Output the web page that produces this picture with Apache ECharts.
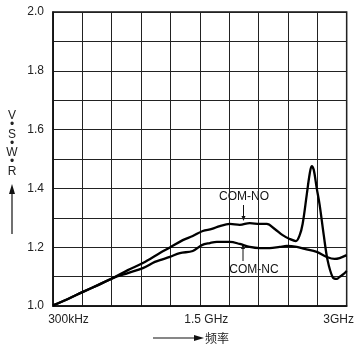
<!DOCTYPE html>
<html><head><meta charset="utf-8">
<script src="https://cdn.jsdelivr.net/npm/echarts@6/dist/echarts.min.js"></script>
<style>html,body{margin:0;padding:0;background:#fff}#c{width:357px;height:344px}</style>
</head><body><div id="c"></div>
<script>
// x positions in grid divisions (0 = 300 kHz, 10 = 3 GHz)
var noX = [0,0.51,1.02,1.53,2.04,2.55,3.06,3.64,3.98,4.42,4.76,5.10,5.41,5.68,6.02,6.36,6.70,7.04,7.28,7.55,7.82,8.06,8.27,8.40,8.50,8.64,8.74,8.81,8.88,8.98,9.08,9.22,9.35,9.52,9.66,9.76,9.90,10];
var noY = [1.002,1.024,1.048,1.071,1.095,1.122,1.146,1.180,1.199,1.224,1.238,1.255,1.262,1.272,1.279,1.276,1.282,1.279,1.279,1.262,1.241,1.228,1.221,1.241,1.279,1.378,1.449,1.476,1.463,1.401,1.344,1.241,1.156,1.099,1.092,1.099,1.109,1.119];
var ncX = [0,0.51,1.02,1.53,2.04,2.55,3.06,3.47,3.64,3.98,4.32,4.76,5.07,5.34,5.58,6.02,6.36,6.70,7.04,7.38,7.72,7.96,8.30,8.57,8.98,9.32,9.59,9.76,10];
var ncY = [1.002,1.024,1.048,1.071,1.095,1.112,1.129,1.150,1.156,1.167,1.180,1.187,1.207,1.214,1.218,1.218,1.211,1.201,1.197,1.197,1.201,1.204,1.201,1.194,1.184,1.167,1.160,1.163,1.173];
var xTickPos = [0,5,10];
var xTickLabels = ['300kHz','1.5 GHz','3GHz'];
var yLabelValues = [1.0,1.2,1.4,1.6,1.8,2.0];
var seriesNames = ['COM-NO','COM-NC'];

function pairs(xs, ys){ return xs.map(function(x,i){ return [x, ys[i]]; }); }

var chart = echarts.init(document.getElementById('c'));
var FONT = '"Liberation Sans", Arial, sans-serif';
chart.setOption({
  backgroundColor: '#fff',
  animation: false,
  grid: {left: 53, right: 10, top: 12, bottom: 38, show: true, borderColor: '#111', borderWidth: 1.5},
  xAxis: {
    type: 'value', min: 0, max: 10, interval: 1,
    axisLine: {show: true, lineStyle: {color: '#111', width: 1.5}},
    axisTick: {show: false},
    splitLine: {show: true, lineStyle: {color: '#222', width: 1}},
    axisLabel: {
      margin: 8, color: '#222', fontFamily: FONT, fontSize: 12,
      showMinLabel: true, showMaxLabel: true,
      formatter: function(v){
        var i = xTickPos.indexOf(Math.round(v));
        if (i < 0 || Math.abs(v - Math.round(v)) > 1e-6) return '';
        return '{' + ['a','b','c'][i] + '|' + xTickLabels[i] + '}';
      },
      rich: {
        a: {fontFamily: FONT, fontSize: 12, color: '#222', padding: [0,0,0,31]},
        b: {fontFamily: FONT, fontSize: 12, color: '#222', padding: [0,0,0,13]},
        c: {fontFamily: FONT, fontSize: 12, color: '#222', padding: [0,16,0,0]}
      }
    }
  },
  yAxis: {
    type: 'value', min: 1.0, max: 2.0, interval: 0.1,
    axisLine: {show: true, lineStyle: {color: '#111', width: 1.5}},
    axisTick: {show: false},
    splitLine: {show: true, lineStyle: {color: '#222', width: 1}},
    axisLabel: {
      margin: 9, color: '#222', fontFamily: FONT, fontSize: 12,
      formatter: function(v){
        for (var i=0;i<yLabelValues.length;i++) if (Math.abs(v-yLabelValues[i])<1e-6) return yLabelValues[i].toFixed(1);
        return '';
      }
    }
  },
  series: [
    {name: seriesNames[0], type: 'line', data: pairs(noX, noY), showSymbol: false, smooth: 0.35,
     lineStyle: {color: '#000', width: 2.3}},
    {name: seriesNames[1], type: 'line', data: pairs(ncX, ncY), showSymbol: false, smooth: 0.35,
     lineStyle: {color: '#000', width: 2.3}}
  ],
  graphic: [
    {type: 'text', x: 244, y: 197, style: {text: seriesNames[0], font: '12px ' + FONT, fill: '#111', align: 'center', verticalAlign: 'middle'}},
    {type: 'line', shape: {x1: 243.5, y1: 205, x2: 243.5, y2: 218}, style: {stroke: '#111', lineWidth: 1}},
    {type: 'polygon', shape: {points: [[241.5,216],[245.5,216],[243.5,221]]}, style: {fill: '#111'}},
    {type: 'text', x: 254, y: 270, style: {text: seriesNames[1], font: '12px ' + FONT, fill: '#111', align: 'center', verticalAlign: 'middle'}},
    {type: 'line', shape: {x1: 243, y1: 261, x2: 243, y2: 248}, style: {stroke: '#111', lineWidth: 1}},
    {type: 'polygon', shape: {points: [[241,249],[245,249],[243,244]]}, style: {fill: '#111'}},
    {type: 'text', x: 12, y: 111, style: {text: 'V\n•\nS\n•\nW\n•\nR', font: '12px ' + FONT, fill: '#222', align: 'center', lineHeight: 9.3}},
    {type: 'line', shape: {x1: 12, y1: 192, x2: 12, y2: 234}, style: {stroke: '#111', lineWidth: 1.2}},
    {type: 'polygon', shape: {points: [[9,194],[15,194],[12,184]]}, style: {fill: '#111'}},
    {type: 'line', shape: {x1: 153, y1: 338, x2: 196, y2: 338}, style: {stroke: '#111', lineWidth: 1.2}},
    {type: 'polygon', shape: {points: [[194,335],[194,341],[204,338]]}, style: {fill: '#111'}},
    {type: 'text', x: 205, y: 338, style: {text: '频率', font: '12px "Noto Sans CJK SC", sans-serif', fill: '#222', verticalAlign: 'middle'}}
  ]
});
</script></body></html>
